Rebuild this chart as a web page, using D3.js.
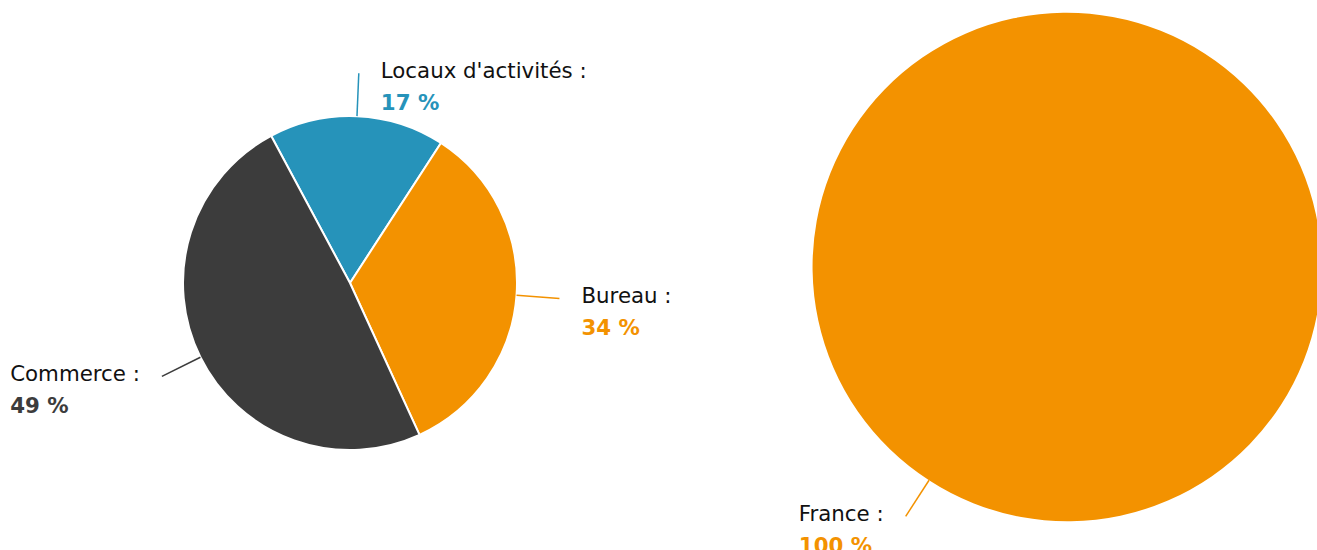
<!DOCTYPE html>
<html>
<head>
<meta charset="utf-8">
<script src="https://cdn.jsdelivr.net/npm/d3@7"></script>
<style>
  html, body { margin: 0; padding: 0; background: #fff; overflow: hidden; }
  svg { display: block; font-family: "DejaVu Sans", sans-serif; }
</style>
</head>
<body>
<div id="chart"></div>
<script>
// ---- Data ----
const typeLabels = ["Locaux d'activités", "Bureau", "Commerce"];
const typeShares = [17, 34, 49];
const typeColors = ["#2693BA", "#F39200", "#3C3C3C"];

const zoneLabels = ["France"];
const zoneShares = [100];
const zoneColors = ["#F39200"];

const W = 1317, H = 550;
const svg = d3.select('#chart').append('svg')
  .attr('width', W)
  .attr('height', H)
  .attr('viewBox', `0 0 ${W} ${H}`);

const deg = Math.PI / 180;
const fontSize = 21.33;

function drawPie(cfg) {
  const data = cfg.labels.map((l, i) => ({ label: l, value: cfg.values[i], color: cfg.colors[i] }));
  const pie = d3.pie().sort(null).value(d => d.value)
    .startAngle(cfg.start * deg)
    .endAngle(cfg.start * deg + 2 * Math.PI);
  const arcs = pie(data);
  const arc = d3.arc().innerRadius(0).outerRadius(cfg.r);

  const g = svg.append('g').attr('transform', `translate(${cfg.cx},${cfg.cy})`);

  g.selectAll('path.slice')
    .data(arcs)
    .enter().append('path')
    .attr('class', 'slice')
    .attr('d', arc)
    .attr('fill', d => d.data.color)
    .attr('stroke', '#fff')
    .attr('stroke-width', cfg.labels.length > 1 ? 2 : 0)
    .attr('stroke-linejoin', 'round');

  // ---- connectors + labels ----
  const lineLen = 43, gap = 22;
  arcs.forEach(a => {
    const mid = (a.startAngle + a.endAngle) / 2;
    const p0 = [Math.sin(mid) * cfg.r, -Math.cos(mid) * cfg.r];
    const p1 = [Math.sin(mid) * (cfg.r + lineLen), -Math.cos(mid) * (cfg.r + lineLen)];
    g.append('line')
      .attr('x1', p0[0]).attr('y1', p0[1])
      .attr('x2', p1[0]).attr('y2', p1[1])
      .attr('stroke', a.data.color)
      .attr('stroke-width', 1.5);

    const right = Math.sin(mid) >= 0;
    const lab = g.append('g');
    lab.append('text')
      .attr('y', 0)
      .style('font-size', fontSize + 'px')
      .style('fill', '#111')
      .text(a.data.label + ' :');
    lab.append('text')
      .attr('y', 32)
      .style('font-size', fontSize + 'px')
      .style('font-weight', 'bold')
      .style('fill', a.data.color)
      .text(a.data.value + ' %');
    const bw = d3.max(lab.selectAll('text').nodes(), n => n.getComputedTextLength());
    const tx = right ? p1[0] + gap : p1[0] - gap - bw;
    lab.attr('transform', `translate(${tx},${p1[1] + 5})`);
  });
}

drawPie({ labels: typeLabels, values: typeShares, colors: typeColors,
  cx: 350, cy: 283, r: 167, start: -28.2 });
drawPie({ labels: zoneLabels, values: zoneShares, colors: zoneColors,
  cx: 1067, cy: 267, r: 254, start: 32.9 });
</script>
</body>
</html>
